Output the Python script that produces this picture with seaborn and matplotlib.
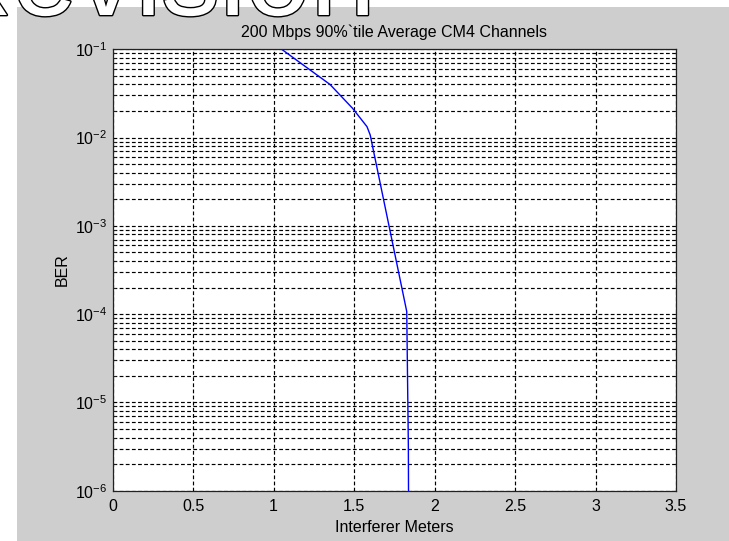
import matplotlib
matplotlib.use("Agg")
import matplotlib.pyplot as plt
import matplotlib.patheffects as pe
from matplotlib.patches import Rectangle
from matplotlib.ticker import LogLocator, FixedLocator, NullFormatter
import seaborn as sns
import pandas as pd

# ---- data ----
meters = [1.05, 1.35, 1.49, 1.58, 1.60, 1.827, 1.837, 1.838]
ber = [1.0e-1, 4.0e-2, 2.15e-2, 1.33e-2, 1.07e-2, 1.07e-4, 3.2e-6, 1.0e-6]
x_ticks = [0, 0.5, 1, 1.5, 2, 2.5, 3, 3.5]
x_tick_labels = ["0", "0.5", "1", "1.5", "2", "2.5", "3", "3.5"]
y_ticks = [1e-6, 1e-5, 1e-4, 1e-3, 1e-2, 1e-1]
y_tick_labels = [r"$10^{-6}$", r"$10^{-5}$", r"$10^{-4}$", r"$10^{-3}$", r"$10^{-2}$", r"$10^{-1}$"]
title = "200 Mbps 90%`tile Average CM4 Channels"
xlabel = "Interferer Meters"
ylabel = "BER"
watermark = "Revision"

sns.set_style("white")
plt.rcParams["font.family"] = ["Liberation Sans", "DejaVu Sans"]
plt.rcParams["mathtext.default"] = "regular"
FS = 11.5

df = pd.DataFrame({"m": meters, "ber": ber})

W, H = 729, 541
fig = plt.figure(figsize=(W / 100, H / 100), dpi=100, facecolor="white")
# gray figure panel
fig.patches.append(Rectangle((17 / W, 0), 1 - 17 / W, 1 - 7 / H, transform=fig.transFigure,
                             facecolor="#cecece", edgecolor="none", zorder=-10))

ax = fig.add_axes([112.7 / W, 1 - 490.7 / H, (676 - 112.7) / W, (490.7 - 49.3) / H])
ax.set_facecolor("white")

sns.lineplot(data=df, x="m", y="ber", ax=ax, color="#0000ff", linewidth=1.0,
             sort=False, estimator=None, legend=False)

ax.set_yscale("log")
ax.set_xlim(0, 3.5)
ax.set_ylim(1e-6, 1e-1)
ax.xaxis.set_major_locator(FixedLocator(x_ticks))
ax.set_xticklabels(x_tick_labels)
ax.yaxis.set_major_locator(FixedLocator(y_ticks))
ax.set_yticklabels(y_tick_labels)
ax.yaxis.set_minor_locator(LogLocator(base=10, subs=[2, 3, 4, 5, 6, 7, 8, 9], numticks=20))
ax.yaxis.set_minor_formatter(NullFormatter())

grid_style = dict(color="black", linestyle=(0, (3.2, 2.0)), linewidth=0.85)
ax.grid(True, which="major", axis="both", **grid_style)
ax.grid(True, which="minor", axis="y", **grid_style)
ax.set_axisbelow(True)

ax.tick_params(which="major", direction="in", length=4, width=0.8, color="black",
               labelsize=FS, labelcolor="black", top=False, right=False)
ax.tick_params(axis="x", pad=6)
ax.tick_params(axis="y", pad=4)
ax.tick_params(which="minor", direction="in", length=2, width=0.6, left=True)
for s in ax.spines.values():
    s.set_visible(True)
    s.set_color("#222222")
    s.set_linewidth(0.9)

ax.set_title(title, fontsize=FS, color="black", pad=9)
ax.set_xlabel(xlabel, fontsize=FS, color="black", labelpad=4)
ax.set_ylabel(ylabel, fontsize=FS, color="black", labelpad=4)

fig.text(-72 / W, 1 - 15 / H, watermark, fontsize=84, fontweight="normal", color="white",
         ha="left", va="baseline", zorder=20,
         path_effects=[pe.Stroke(linewidth=2.0, foreground="black"), pe.Normal()])

fig.savefig("out.png", dpi=100, facecolor="white")
